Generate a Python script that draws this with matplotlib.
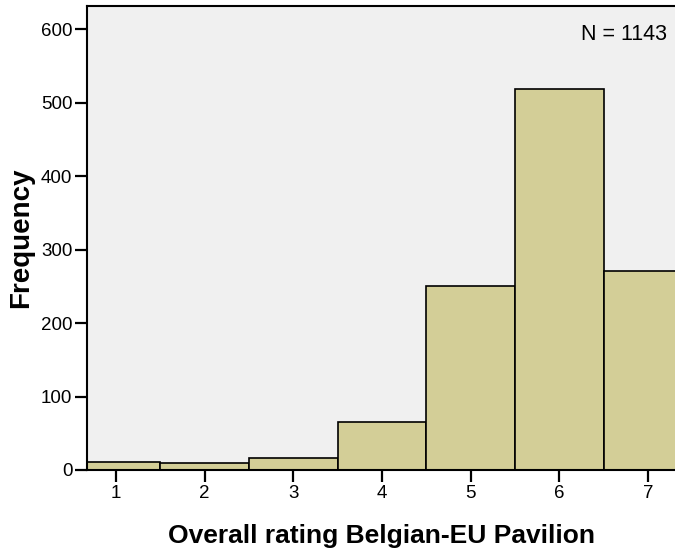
import matplotlib.pyplot as plt

plt.rcParams['font.family'] = ['Liberation Sans', 'DejaVu Sans']

ratings = [1, 2, 3, 4, 5, 6, 7]
freq = [11, 10, 16, 66, 250, 519, 271]
yticks = [0, 100, 200, 300, 400, 500, 600]

fig = plt.figure(figsize=(6.75, 5.55), dpi=100)
ax = fig.add_axes([87 / 675, 85 / 555, 588 / 675, 464 / 555])
ax.set_facecolor('#F0F0F0')

ax.bar(ratings, freq, width=1.0, color='#D3CE97', edgecolor='black', linewidth=1.2)

ax.set_xlim(0.673, 7.305)
ax.set_ylim(0, 632)
ax.set_xticks(ratings)
ax.set_yticks(yticks)
ax.tick_params(labelsize=13.5, length=8.5, width=1.6, direction='out', pad=2)

for s in ['left', 'bottom', 'top']:
    ax.spines[s].set_linewidth(1.5)
ax.spines['right'].set_visible(False)

ax.set_xlabel('Overall rating Belgian-EU Pavilion', fontsize=19, fontweight='bold', labelpad=16)
ax.set_ylabel('Frequency', fontsize=20, fontweight='bold', labelpad=5)

ax.text(0.987, 0.9375, 'N = 1143', transform=ax.transAxes, ha='right', va='center', fontsize=15.5)

fig.savefig('out.png', dpi=100)
